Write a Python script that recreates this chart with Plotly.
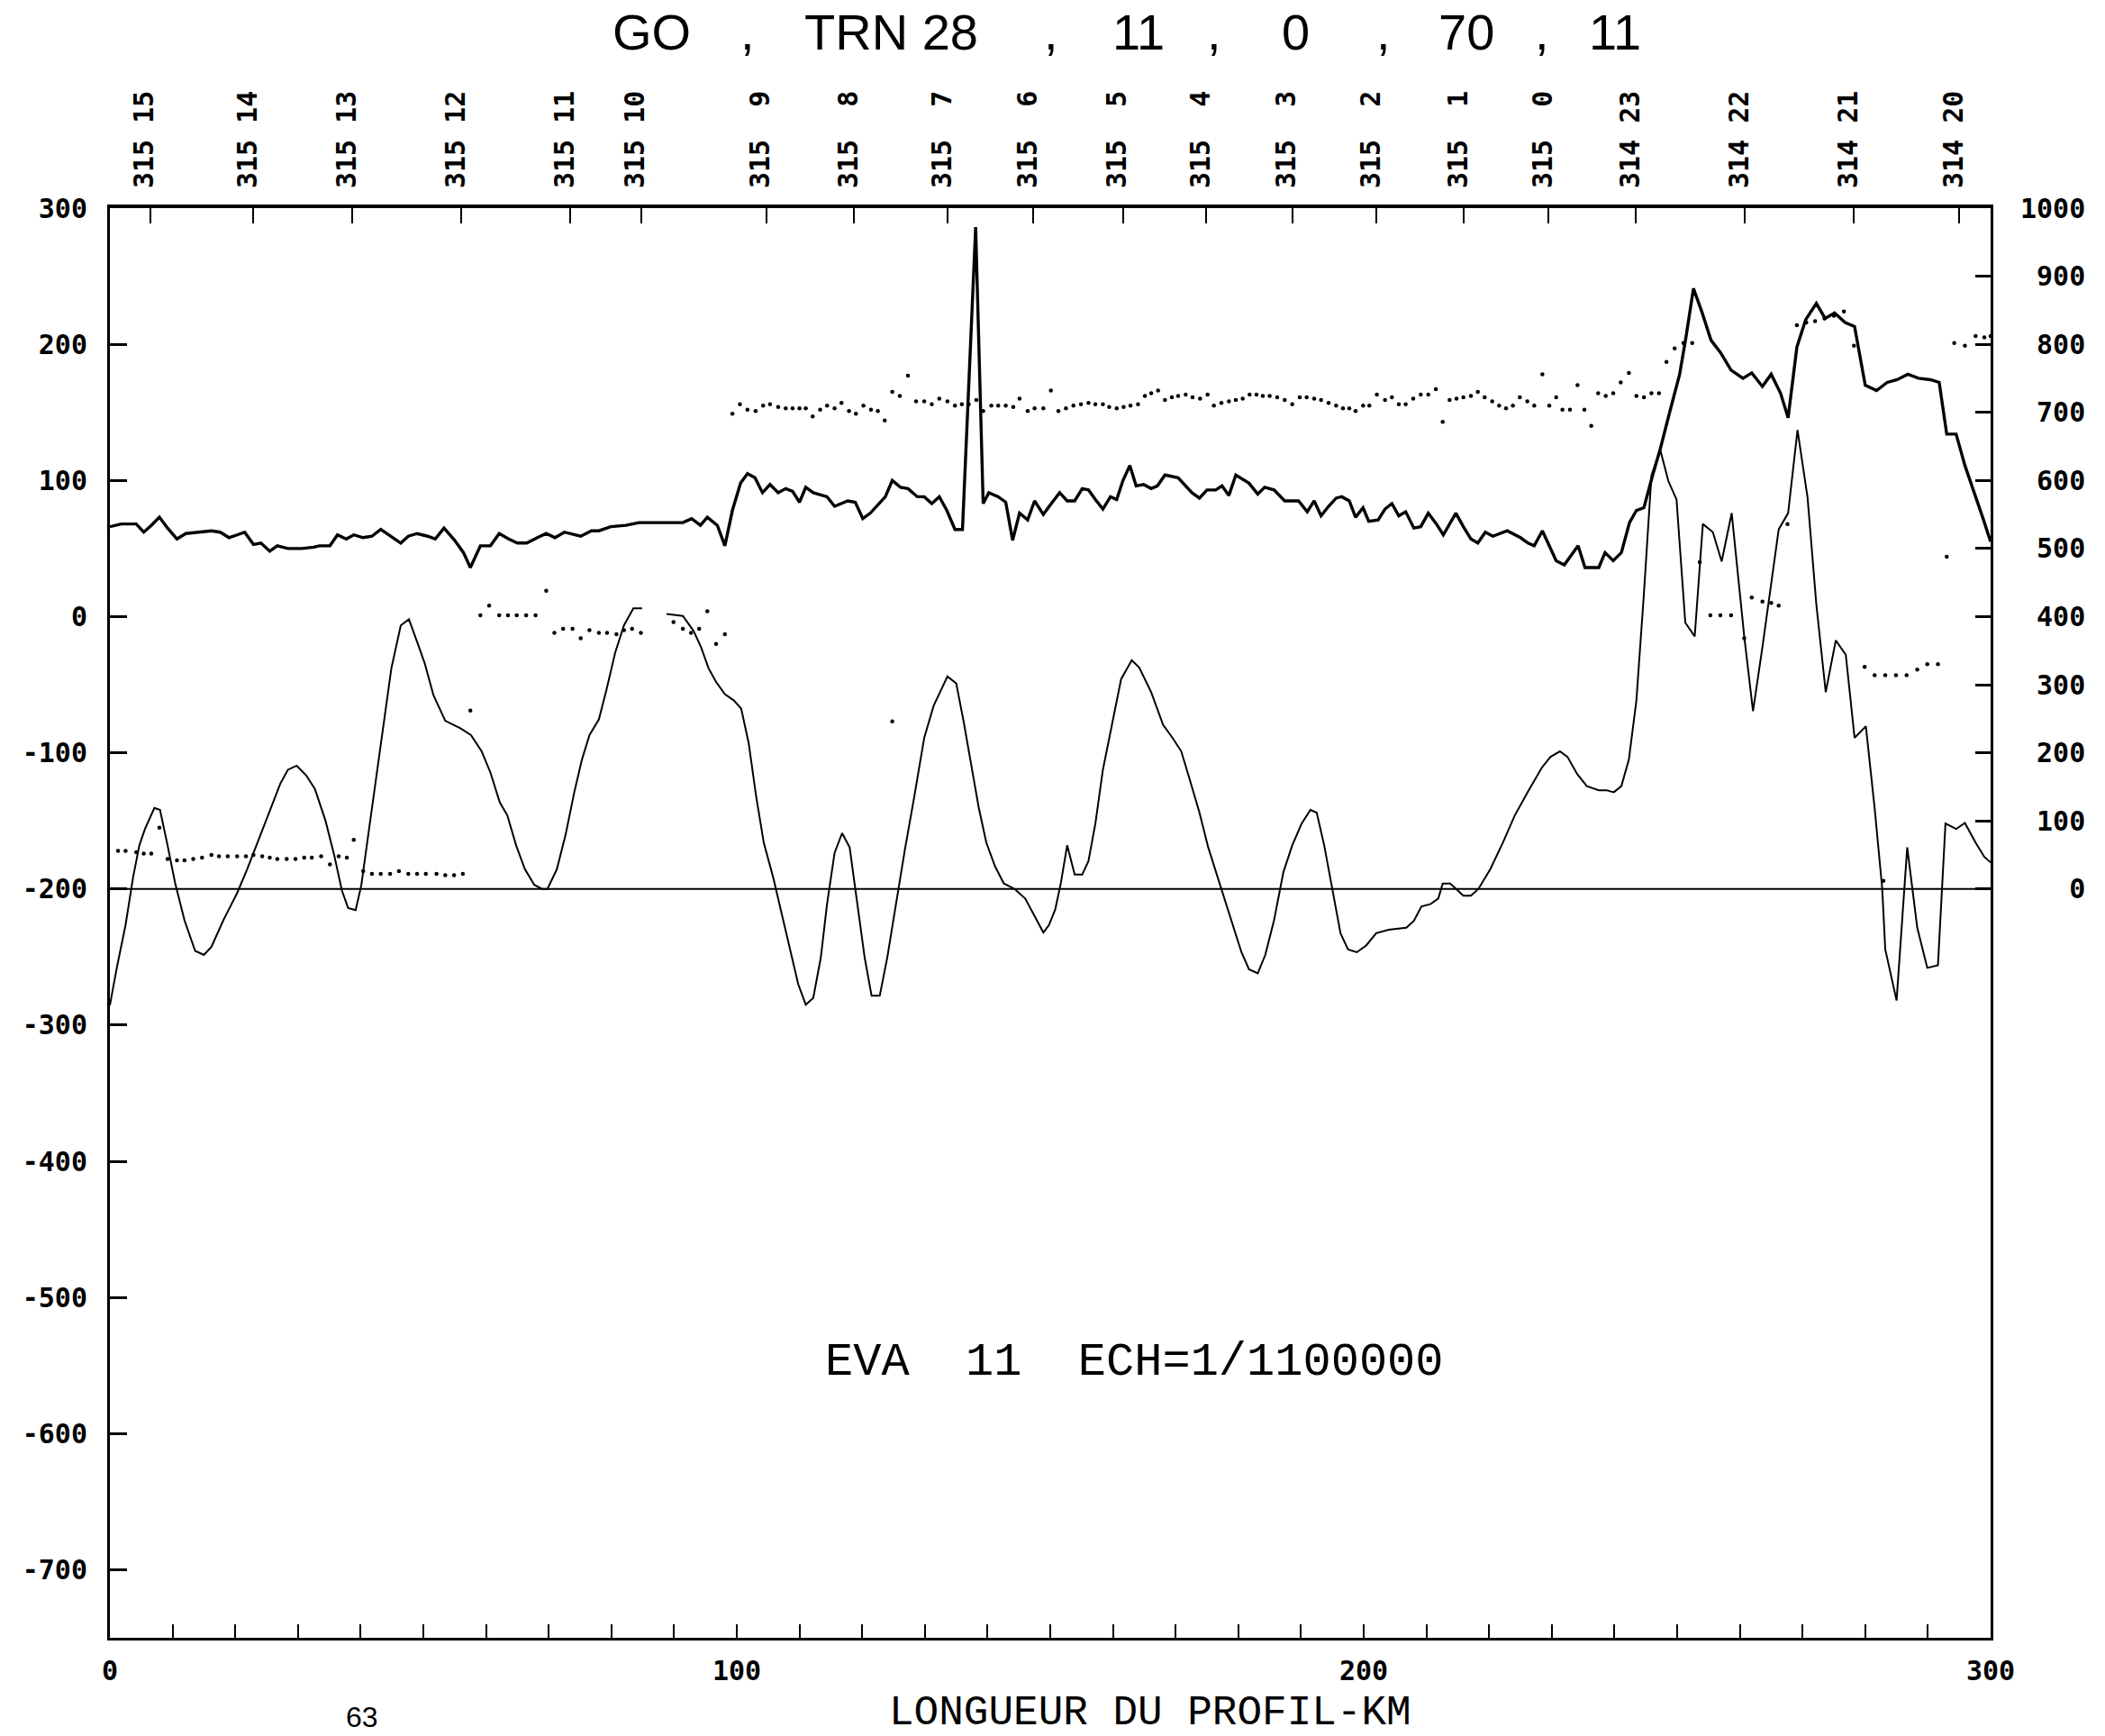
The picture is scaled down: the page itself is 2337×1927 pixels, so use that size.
import plotly.graph_objects as go

# ---------------- data ----------------
# thick upper profile (left axis units)
dist_a = [0.0, 1.8, 4.2, 5.4, 6.6, 7.9, 9.2, 10.7, 12.1, 14.3,
          16.2, 17.6, 19.0, 20.3, 21.5, 22.9, 24.1, 25.5, 26.7, 28.4,
          30.6, 32.5, 33.4, 35.1, 36.3, 37.7, 38.9, 40.4, 41.8, 43.2,
          44.9, 46.4, 47.6, 49.0, 50.7, 51.9, 53.3, 55.0, 56.4, 57.5,
          59.1, 60.7, 62.1, 63.6, 65.0, 66.5, 68.2, 69.6, 71.0, 72.5,
          75.1, 76.8, 78.0, 79.9, 82.3, 84.4, 86.6, 91.4, 92.8, 94.2,
          95.3, 96.9, 98.1, 99.3, 100.6, 101.7, 102.9, 104.1, 105.3, 106.6,
          107.8, 108.9, 110.0, 111.0, 112.2, 114.4, 115.6, 117.7, 118.9, 120.1,
          121.3, 123.7, 124.8, 126.1, 127.3, 128.8, 129.9, 131.1, 132.3, 133.5,
          134.8, 136.0, 138.1, 139.3, 140.2, 141.7, 142.9, 144.0, 145.1, 146.4,
          147.5, 148.9, 150.0, 151.5, 152.7, 153.9, 155.1, 156.1, 157.2, 158.4,
          159.6, 160.6, 161.6, 162.7, 163.7, 164.9, 166.1, 167.1, 168.3, 170.4,
          172.6, 173.8, 175.0, 176.4, 177.4, 178.5, 179.6, 181.7, 183.1, 184.2,
          185.7, 187.4, 189.6, 191.0, 192.1, 193.2, 194.4, 195.6, 196.5, 197.7,
          198.7, 199.9, 200.8, 202.3, 203.4, 204.5, 205.6, 206.7, 208.0, 209.1,
          210.3, 211.6, 212.7, 214.7, 215.9, 217.1, 218.2, 219.4, 220.6, 222.9,
          225.0, 226.2, 227.2, 228.5, 229.6, 230.7, 232.0, 234.2, 235.3, 237.5,
          238.5, 239.8, 241.1, 242.4, 243.5, 244.7, 246.1, 247.3, 248.8, 250.4,
          251.4, 252.6, 254.0, 255.4, 256.9, 258.6, 260.5, 261.9, 263.6, 265.0,
          266.5, 267.7, 269.1, 270.5, 272.2, 273.6, 275.1, 276.8, 278.3, 280.0,
          281.8, 283.5, 285.1, 286.8, 288.5, 290.4, 291.8, 293.0, 294.5, 295.9,
          298.8, 300.0]
val_a = [66, 68, 68, 62, 67, 73, 65, 57, 61, 62,
         63, 62, 58, 60, 62, 53, 54, 48, 52, 50,
         50, 51, 52, 52, 60, 57, 60, 58, 59, 64,
         59, 54, 59, 61, 59, 57, 65, 56, 47, 36,
         52, 52, 61, 57, 54, 54, 58, 61, 58, 62,
         59, 63, 63, 66, 67, 69, 69, 69, 72, 67,
         73, 67, 52, 78, 98, 105, 102, 91, 97, 91,
         94, 92, 84, 95, 91, 88, 81, 85, 84, 72,
         76, 88, 100, 95, 94, 88, 88, 83, 88, 78,
         64, 64, 286, 83, 91, 88, 84, 56, 76, 71,
         85, 75, 82, 91, 85, 85, 94, 93, 86, 79,
         88, 86, 100, 111, 96, 97, 94, 96, 104, 102,
         91, 87, 93, 93, 96, 89, 104, 98, 90, 95,
         93, 85, 85, 77, 85, 74, 81, 87, 88, 85,
         73, 80, 70, 71, 79, 83, 74, 77, 65, 66,
         76, 68, 60, 76, 66, 57, 54, 62, 59, 63,
         58, 54, 52, 63, 52, 41, 38, 52, 36, 36,
         47, 41, 47, 69, 78, 80, 104, 123, 150, 178,
         205, 241, 223, 203, 194, 181, 175, 179, 169, 178,
         164, 146, 198, 218, 230, 219, 223, 216, 213, 170,
         166, 172, 174, 178, 175, 174, 172, 134, 134, 111,
         72, 55]

# thin lower profile (right axis units)
dist_b = [0.0, 1.1, 2.5, 3.7, 4.7, 5.6, 7.1, 8.0, 9.2, 10.4,
          11.9, 13.6, 15.0, 16.2, 18.1, 20.3, 21.9, 23.9, 25.8, 27.2,
          28.4, 29.8, 31.3, 32.7, 34.4, 35.8, 37.0, 38.0, 39.2, 40.1,
          41.1, 42.3, 43.5, 44.9, 46.4, 47.7, 49.0, 50.2, 51.6, 53.5,
          55.9, 57.6, 59.3, 60.7, 62.2, 63.4, 64.8, 66.2, 67.7, 68.9,
          69.8, 71.3, 72.7, 74.1, 75.3, 76.5, 78.0, 79.2, 80.6, 82.0,
          83.5, 84.9, 86.8, 88.8, 91.4, 93.1, 94.3, 95.5, 96.7, 98.1,
          99.5, 100.7, 101.9, 103.1, 104.3, 105.8, 107.2, 108.6, 109.8, 111.0,
          112.2, 113.4, 114.4, 115.6, 116.8, 118.0, 119.2, 120.4, 121.5, 122.8,
          124.0, 125.4, 126.8, 128.3, 129.9, 131.4, 132.6, 133.6, 135.0, 136.2,
          137.4, 138.6, 139.8, 141.2, 142.6, 144.3, 146.0, 147.4, 148.9, 149.8,
          150.8, 151.7, 152.7, 153.9, 155.1, 156.1, 157.2, 158.4, 159.9, 161.3,
          163.0, 164.2, 166.1, 168.0, 169.5, 170.9, 172.3, 173.8, 175.2, 176.9,
          178.6, 180.5, 181.7, 183.1, 184.3, 185.7, 187.2, 188.6, 190.1, 191.5,
          192.5, 193.7, 194.9, 196.3, 197.5, 198.9, 200.4, 202.0, 204.0, 206.8,
          208.0, 209.2, 210.7, 211.9, 212.6, 213.8, 215.9, 217.1, 218.3, 220.2,
          222.2, 224.1, 226.2, 228.4, 229.8, 231.3, 232.5, 234.1, 235.6, 237.5,
          238.7, 239.9, 241.1, 242.3, 243.5, 244.7, 245.9, 247.3, 248.6, 249.9,
          251.3, 252.8, 254.1, 255.7, 257.1, 258.7, 260.7, 262.1, 263.6, 265.0,
          266.2, 267.7, 269.2, 270.8, 272.2, 273.7, 275.3, 276.9, 278.3, 280.1,
          281.5, 282.7, 283.2, 285.0, 286.7, 288.3, 289.9, 291.6, 292.8, 294.5,
          295.9, 297.6, 299.0, 300.0]
val_b = [-171, -116, -53, 17, 64, 88, 119, 116, 64, 9,
         -46, -91, -97, -85, -46, -6, 29, 76, 123, 155,
         175, 181, 167, 147, 100, 49, -2, -28, -31, 5,
         72, 151, 230, 324, 387, 396, 363, 332, 285, 247,
         236, 226, 202, 171, 127, 108, 64, 29, 6, 0,
         0, 29, 80, 143, 190, 226, 249, 292, 347, 387,
         412, 412, None, 404, 401, 379, 355, 324, 304, 286,
         277, 265, 214, 135, 68, 17, -38, -93, -140, -170,
         -160, -101, -22, 53, 82, 61, -22, -101, -157, -157,
         -101, -22, 57, 135, 222, 269, 292, 312, 302, 245,
         182, 119, 68, 33, 8, 0, -14, -39, -64, -53,
         -30, 9, 64, 21, 21, 41, 96, 175, 245, 308,
         336, 325, 289, 241, 222, 202, 159, 112, 61, 13,
         -38, -93, -118, -124, -97, -46, 25, 64, 96, 116,
         112, 64, 2, -65, -89, -93, -83, -65, -60, -57,
         -47, -26, -22, -14, 8, 8, -10, -10, 0, 29,
         68, 108, 143, 178, 194, 202, 194, 168, 151, 145,
         145, 142, 151, 190, 277, 434, 607, 645, 599, 572,
         391, 371, 536, 524, 481, 552, 371, 261, 355, 450,
         528, 552, 674, 575, 418, 289, 365, 344, 222, 239,
         119, 2, -89, -164, 61, -57, -116, -112, 96, 88,
         97, 68, 47, 39]

# dotted series (left axis units)
dist_c = [1.3, 2.5, 4.2, 5.4, 6.6, 7.9, 9.2, 10.7, 11.9, 13.3,
          14.7, 16.2, 17.4, 18.8, 20.3, 21.7, 22.9, 24.3, 25.5, 26.7,
          28.2, 29.6, 31.0, 32.2, 33.7, 35.1, 36.5, 37.8, 38.9, 40.4,
          41.8, 43.2, 44.7, 46.1, 47.6, 49.0, 50.4, 52.1, 53.5, 54.9,
          56.3, 57.5, 59.1, 60.5, 62.1, 63.5, 64.9, 66.4, 67.9, 69.6,
          70.9, 72.3, 73.8, 75.1, 76.5, 78.0, 79.3, 80.8, 82.0, 83.3,
          84.7, 89.9, 91.4, 92.7, 94.0, 95.3, 96.7, 98.1, 99.3, 100.5,
          101.7, 103.0, 104.2, 105.3, 106.6, 107.8, 108.9, 110.0, 111.0, 112.1,
          113.3, 114.4, 115.6, 116.7, 117.9, 119.0, 120.2, 121.4, 122.5, 123.6,
          124.8, 124.8, 126.0, 127.3, 128.6, 129.9, 131.1, 132.3, 133.6, 134.8,
          135.9, 137.0, 138.2, 139.3, 140.6, 141.7, 142.9, 144.1, 145.1, 146.4,
          147.5, 148.9, 150.1, 151.3, 152.5, 153.7, 154.9, 156.1, 157.2, 158.4,
          159.4, 160.6, 161.7, 162.8, 164.0, 165.1, 166.1, 167.2, 168.3, 169.4,
          170.4, 171.6, 172.7, 173.9, 175.1, 176.1, 177.3, 178.5, 179.6, 180.7,
          181.8, 182.9, 183.9, 185.0, 186.2, 187.4, 188.6, 189.8, 190.9, 192.1,
          193.2, 194.4, 195.6, 196.7, 197.7, 198.7, 199.9, 200.9, 202.1, 203.4,
          204.5, 205.6, 206.7, 207.9, 209.1, 210.3, 211.5, 212.6, 213.7, 214.8,
          215.9, 217.1, 218.2, 219.3, 220.5, 221.6, 222.7, 223.8, 224.9, 226.1,
          227.2, 228.5, 229.6, 230.7, 231.7, 232.9, 234.1, 235.2, 236.3, 237.4,
          238.6, 239.8, 241.0, 242.3, 243.5, 244.7, 245.9, 247.1, 248.3, 249.6,
          251.0, 252.4, 253.6, 255.3, 256.9, 258.6, 260.7, 261.9, 263.6, 265.0,
          266.2, 267.6, 269.1, 270.6, 272.0, 273.5, 275.0, 276.6, 278.2, 279.9,
          281.5, 282.9, 283.2, 284.9, 286.6, 288.3, 289.9, 291.6, 293.0, 294.2,
          295.9, 297.6, 299.0, 300.0]
val_c = [-172, -172, -173, -174, -174, -155, -178, -179, -179, -178,
         -177, -175, -176, -176, -176, -176, -175, -176, -177, -178,
         -178, -178, -177, -177, -176, -182, -176, -177, -164, -187,
         -189, -189, -189, -187, -189, -189, -189, -189, -190, -190,
         -189, -69, 1, 8, 1, 1, 1, 1, 1, 19,
         -12, -9, -9, -16, -10, -12, -12, -13, -10, -9,
         -12, -4, -9, -12, -9, 4, -20, -13, 149, 156,
         152, 151, 155, 156, 154, 153, 153, 153, 153, 147,
         152, 155, 153, 157, 151, 149, 155, 152, 151, 144,
         165, -77, 162, 177, 158, 158, 156, 160, 158, 155,
         156, 156, 159, 151, 155, 155, 155, 154, 160, 151,
         153, 153, 166, 151, 153, 155, 156, 157, 156, 156,
         154, 153, 154, 155, 156, 162, 164, 166, 159, 161,
         162, 163, 161, 160, 163, 155, 157, 158, 159, 160,
         163, 163, 162, 162, 161, 159, 156, 161, 161, 160,
         159, 157, 155, 153, 153, 151, 155, 155, 163, 159,
         161, 156, 156, 160, 163, 163, 167, 143, 159, 160,
         161, 162, 165, 161, 158, 155, 153, 155, 161, 158,
         155, 178, 155, 161, 152, 152, 170, 152, 140, 164,
         162, 164, 172, 179, 162, 161, 164, 164, 187, 197,
         201, 201, 40, 1, 1, 1, -16, 14, 11, 10,
         8, 68, 214, 216, 217, 219, 221, 224, 199, -37,
         -43, -194, -43, -43, -43, -39, -35, -35, 44, 201,
         199, 206, 205, 206]

# axis ticks / labels
left_ticks = list(range(-700, 301, 100))
right_ticks = list(range(0, 1001, 100))
bottom_ticks = [0, 100, 200, 300]
top_pos = [6.4, 22.9, 38.7, 56.1, 73.4, 84.7, 104.7, 118.7, 133.6, 147.3,
           161.6, 174.9, 188.6, 202.0, 216.0, 229.5, 243.4, 260.8, 278.2, 295.0]
top_day = [315] * 16 + [314] * 4
top_hour = [15, 14, 13, 12, 11, 10, 9, 8, 7, 6, 5, 4, 3, 2, 1, 0, 23, 22, 21, 20]

title_tokens = ["GO", ",", "TRN 28", ",", "11", ",", "0", ",", "70", ",", "11"]
title_px = [723, 830, 989, 1167, 1264, 1348, 1438, 1536, 1628, 1712, 1793]
scale_text = "EVA  11  ECH=1/1100000"
x_title = "LONGUEUR DU PROFIL-KM"
page_no = "63"

# ---------------- layout geometry ----------------
W, H = 2337, 1927
L, R, T, B = 122, 127, 231, 109
PW, PH = W - L - R, H - T - B
MONO = "DejaVu Sans Mono, Liberation Mono, monospace"
NB = "\u00a0"


def px_x(p):
    return (p - L) / PW


def px_y(p):
    return 1 - (p - T) / PH


fig = go.Figure()
fig.add_trace(go.Scatter(x=dist_a, y=val_a, mode="lines", xaxis="x", yaxis="y",
                         line=dict(color="black", width=3.4), hoverinfo="skip"))
fig.add_trace(go.Scatter(x=dist_b, y=val_b, mode="lines", xaxis="x", yaxis="y2",
                         connectgaps=False, line=dict(color="black", width=2.0),
                         hoverinfo="skip"))
fig.add_trace(go.Scatter(x=dist_c, y=val_c, mode="markers", xaxis="x", yaxis="y",
                         marker=dict(color="black", size=4.5), hoverinfo="skip"))
# keep top axis active
fig.add_trace(go.Scatter(x=[0, 300], y=[-740, -740], mode="markers", xaxis="x2", yaxis="y",
                         marker=dict(opacity=0), hoverinfo="skip"))

tick_font = dict(family=MONO, size=30, color="black", weight="bold")
axis_common = dict(showgrid=False, zeroline=False, showline=True, linecolor="black",
                   tickcolor="black", ticks="inside", tickfont=tick_font)

fig.update_layout(
    width=W, height=H, autosize=False,
    margin=dict(l=L, r=R, t=T, b=B, autoexpand=False),
    paper_bgcolor="white", plot_bgcolor="white", showlegend=False,
    xaxis=dict(range=[0, 300], linewidth=3, ticklen=15, tickwidth=2,
               tickvals=bottom_ticks, ticktext=[str(v) for v in bottom_ticks],
               minor=dict(dtick=10, tick0=0, ticks="inside", ticklen=15, tickwidth=2,
                          tickcolor="black", showgrid=False),
               ticklabelstandoff=8, **axis_common),
    xaxis2=dict(range=[0, 300], overlaying="x", side="top", anchor="y", linewidth=4,
                ticklen=17, tickwidth=2, tickvals=top_pos,
                ticktext=[f"{d} {h:>2}".replace(" ", NB) for d, h in zip(top_day, top_hour)],
                tickangle=-90, ticklabelstandoff=12, ticklabelshift=-6, **axis_common),
    yaxis=dict(range=[-750, 300], linewidth=3, ticklen=19, tickwidth=2.5,
               tickvals=left_ticks, ticktext=[str(v) for v in left_ticks],
               ticklabelstandoff=16, **axis_common),
    yaxis2=dict(range=[-1100, 1000], overlaying="y", side="right", anchor="x", linewidth=3,
                ticklen=17, tickwidth=2.5, tickvals=right_ticks,
                ticktext=[f"{v:>4}".replace(" ", NB) for v in right_ticks],
                ticklabelstandoff=24, **axis_common),
    shapes=[dict(type="line", xref="x", yref="y2", x0=0, x1=300, y0=0, y1=0,
                 line=dict(color="black", width=2))],
)

ann = []
for tok, p in zip(title_tokens, title_px):
    ann.append(dict(text=tok, xref="paper", yref="paper", x=px_x(p), y=px_y(36),
                    xanchor="center", yanchor="middle", showarrow=False,
                    font=dict(family="Liberation Sans Narrow, Liberation Sans, Arial, sans-serif",
                              size=56, color="black")))
ann.append(dict(text=scale_text, xref="paper", yref="paper", x=px_x(1259), y=px_y(1512),
                xanchor="center", yanchor="middle", showarrow=False,
                font=dict(family="Liberation Mono, DejaVu Sans Mono, monospace", size=52,
                          color="black")))
ann.append(dict(text=x_title, xref="paper", yref="paper", x=px_x(1277), y=px_y(1902),
                xanchor="center", yanchor="middle", showarrow=False,
                font=dict(family="Liberation Mono, DejaVu Sans Mono, monospace", size=46,
                          color="black")))
ann.append(dict(text=page_no, xref="paper", yref="paper", x=px_x(402), y=px_y(1926),
                xanchor="center", yanchor="bottom", showarrow=False,
                font=dict(family="Liberation Sans Narrow, Liberation Sans, sans-serif",
                          size=32, color="black")))
fig.update_layout(annotations=ann)

fig.write_html("out.html")
